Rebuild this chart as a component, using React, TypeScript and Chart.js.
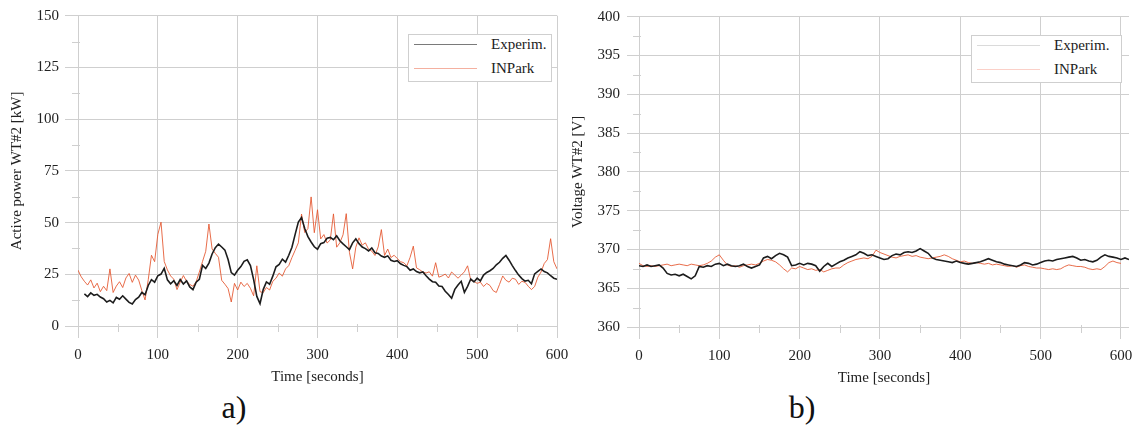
import React, { useEffect, useRef } from "react";
import { Chart, registerables } from "chart.js";

Chart.register(...registerables);

const FONT_FAMILY = "'Liberation Serif', 'Times New Roman', serif";
const TEXT_COLOR = "#222222";
const GRID_COLOR = "#cfcfcf";
const EXP_COLOR = "#1c1c1c";
const SIM_COLOR = "rgba(228, 84, 44, 0.85)";

// ---- a) Active power of WT#2 [kW], sampled every 4 s ----
const POWER_STEP = 4;
const POWER_EXP_START = 8;
const powerExperim = [
  15.5, 14.2, 16.0, 14.8, 15.3, 14.0, 13.2, 11.6, 12.4, 11.2, 13.8, 12.9, 14.6, 13.0, 11.4, 10.6,
  12.8, 13.9, 16.2, 15.1, 19.6, 22.4, 21.2, 24.3, 25.1, 27.9, 22.3, 20.4, 21.9, 19.6, 22.5, 20.3,
  21.8, 18.9, 17.6, 21.2, 22.6, 29.3, 27.8, 30.4, 34.8, 37.9, 39.6, 38.2, 36.7, 32.1, 25.8, 24.6,
  26.9, 28.7, 31.3, 32.0, 29.2, 22.4, 14.3, 10.8, 17.6, 21.3, 20.2, 24.1, 28.6, 29.8, 32.3, 30.9,
  34.2, 38.1, 44.3, 50.2, 52.4, 47.1, 43.2, 40.6, 38.3, 37.1, 39.8, 40.3, 42.4, 42.8, 41.7, 43.6,
  41.2, 39.7, 38.3, 36.9, 40.2, 42.1, 39.8, 38.2, 37.4, 36.3, 37.7, 35.4, 35.1, 33.8, 33.2, 33.9,
  31.8, 31.2, 31.6, 30.1, 29.3, 28.7, 26.9, 27.6, 26.3, 25.7, 26.1, 24.3, 22.7, 21.4, 21.2, 19.3,
  19.1, 16.8, 15.2, 13.4, 17.7, 19.8, 21.6, 16.3, 19.2, 22.7, 21.3, 23.1, 21.8, 24.6, 25.9, 26.7,
  27.8, 29.6, 30.8, 32.7, 34.1, 31.8, 29.2, 26.8, 24.6, 22.9, 21.7, 22.1, 20.4, 25.2, 26.4, 27.6,
  26.3, 25.7, 24.3, 23.1, 22.6,
];
const POWER_SIM_START = 0;
const powerINPark = [
  27.0, 23.8, 21.6, 19.8, 22.3, 18.4, 20.7, 16.6, 19.2, 17.1, 27.6, 16.2, 19.3, 21.4, 18.6, 23.2,
  25.4, 21.1, 24.6, 22.2, 17.1, 12.6, 22.4, 34.2, 31.1, 44.3, 50.2, 31.2, 27.1, 24.2, 22.6, 17.6,
  21.2, 24.4, 21.6, 20.1, 19.2, 21.4, 26.1, 31.2, 36.1, 49.3, 37.2, 35.1, 33.2, 22.1, 20.2, 18.1,
  11.6, 20.6, 17.4, 21.2, 19.1, 20.6, 18.2, 14.6, 29.1, 16.6, 16.1, 18.6, 17.4, 21.6, 23.1, 25.6,
  24.1, 27.6, 29.2, 33.1, 36.6, 40.2, 54.1, 45.2, 47.1, 62.4, 45.1, 56.2, 42.1, 44.2, 40.1, 41.6,
  54.2, 38.1, 40.2, 44.1, 54.3, 35.6, 27.6, 38.1, 42.6, 39.1, 40.2, 37.1, 36.2, 34.1, 38.2, 46.6,
  34.1, 37.2, 33.1, 34.2, 32.6, 31.1, 30.6, 29.1, 33.2, 38.6, 28.1, 27.2, 26.1, 25.6, 26.2, 24.1,
  30.6, 23.6, 24.2, 25.1, 23.2, 26.1, 24.6, 23.1, 24.6, 26.2, 29.1, 22.1, 21.6, 20.6, 21.2, 19.1,
  20.6, 19.6, 17.1, 16.2, 20.1, 24.2, 22.1, 21.2, 23.1, 22.6, 20.1, 21.6, 21.1, 19.2, 17.6, 19.1,
  23.6, 26.1, 30.2, 32.1, 42.2, 31.1, 27.6,
];

// ---- b) Voltage of WT#2 [V], sampled every 5 s ----
const VOLT_STEP = 5;
const voltExperim = [
  367.9, 367.8, 368.0, 367.8, 367.9, 368.0, 367.6, 366.9, 366.7, 366.8, 366.6, 366.8, 366.5, 366.2,
  366.6, 367.8, 367.7, 367.9, 367.8, 368.1, 368.2, 367.9, 368.1, 367.9, 367.8, 367.9, 368.1, 367.8,
  367.6, 367.8, 368.0, 368.9, 369.1, 368.8, 369.2, 369.5, 369.3, 369.0, 367.9, 368.0, 368.2, 368.0,
  368.2, 368.1, 367.9, 367.2, 367.8, 368.2, 367.8, 368.1, 368.4, 368.6, 368.9, 369.1, 369.3, 369.7,
  369.5, 369.2, 369.3, 369.1, 368.9, 368.7, 368.8, 369.2, 369.4, 369.3, 369.6, 369.7, 369.6, 369.8,
  370.1, 369.8, 369.5, 368.9, 368.7, 368.6, 368.5, 368.4, 368.3, 368.5, 368.3, 368.2, 368.1, 368.2,
  368.3, 368.4, 368.6, 368.8, 368.6, 368.4, 368.3, 368.1, 368.0, 367.9, 367.8, 368.0, 368.3, 368.2,
  368.0, 368.1, 368.3, 368.5, 368.6, 368.5, 368.7, 368.8, 368.9, 369.0, 369.1, 368.9, 368.6, 368.7,
  368.5, 368.4, 368.6, 369.0, 369.3, 369.1, 369.0, 368.9, 368.7, 368.9, 368.7,
];
const voltINPark = [
  368.2, 367.9, 367.8, 367.9, 367.8, 367.9, 368.0, 368.1, 367.9, 368.0, 368.1, 368.0, 367.9, 368.1,
  368.0, 367.9, 368.0, 368.2, 368.5, 369.0, 369.3, 368.6, 368.0, 367.8, 367.9, 367.7, 367.9, 368.0,
  368.1, 368.0, 368.2, 368.5, 368.7, 368.6, 368.4, 368.0, 367.5, 367.1, 367.6, 367.5, 367.8, 367.6,
  367.4, 367.5, 367.3, 367.4, 367.1, 367.3, 367.5, 367.6, 367.6, 368.0, 368.3, 368.5, 368.7, 368.8,
  368.9, 368.8, 369.1, 369.9, 369.6, 369.4, 369.2, 369.0, 368.9, 369.1, 369.2, 369.3, 369.1, 369.2,
  369.0, 368.9, 368.8, 368.9, 369.0, 369.1, 369.3, 369.1, 368.8, 368.6, 368.4, 368.5, 368.3, 368.2,
  368.3, 368.2, 368.1, 368.2, 368.0, 368.1, 368.0, 367.9, 367.8, 367.9, 367.7, 367.9, 368.0, 367.8,
  367.7, 367.6, 367.6, 367.5, 367.4, 367.5, 367.4, 367.5, 367.8, 368.0, 367.9, 367.8, 367.8, 367.7,
  367.5, 367.4, 367.5, 367.4, 367.8, 368.3, 368.5, 368.3, 368.2,
];

// Labelled time ticks and the short minor marks between the labelled ticks
const timeTicks = [0, 100, 200, 300, 400, 500, 600];
const timeMinor = [50, 150, 250, 350, 450, 550];
const powerMinor = [12.5, 37.5, 62.5, 87.5, 112.5, 137.5];
const voltMinor = [362.5, 367.5, 372.5, 377.5, 382.5, 387.5, 392.5, 397.5];

const LEGEND_LABELS = ["Experim.", "INPark"];

function toPoints(start: number, step: number, values: number[]) {
  return values.map((v, i) => ({ x: start + i * step, y: v }));
}

const minorTicksPlugin = {
  id: "minorTicks",
  beforeDatasetsDraw(chart: any, _args: any, opts: any) {
    const { ctx, chartArea, scales } = chart;
    ctx.save();
    ctx.strokeStyle = GRID_COLOR;
    ctx.lineWidth = 1;
    for (const v of opts.x || []) {
      const px = Math.round(scales.x.getPixelForValue(v)) + 0.5;
      ctx.beginPath();
      ctx.moveTo(px, chartArea.bottom - 2);
      ctx.lineTo(px, chartArea.bottom + 6);
      ctx.stroke();
    }
    for (const v of opts.y || []) {
      const py = Math.round(scales.y.getPixelForValue(v)) + 0.5;
      ctx.beginPath();
      ctx.moveTo(chartArea.left - 6, py);
      ctx.lineTo(chartArea.left + 2, py);
      ctx.stroke();
    }
    ctx.restore();
  },
};

type PlotProps = {
  width: number;
  height: number;
  expData: { x: number; y: number }[];
  simData: { x: number; y: number }[];
  xMax: number;
  yMin: number;
  yMax: number;
  yStep: number;
  yTitle: string;
  yWidth: number;
  yTickLength: number;
  yTickPadding: number;
  yTitlePad: number;
  padTop: number;
  padRight: number;
  minorY: number[];
};

function Plot(p: PlotProps) {
  const ref = useRef<HTMLCanvasElement | null>(null);
  useEffect(() => {
    if (!ref.current) return;
    const font = { family: FONT_FAMILY, size: 15 };
    const chart = new Chart(ref.current, {
      type: "line",
      data: {
        datasets: [
          {
            label: LEGEND_LABELS[0],
            data: p.expData,
            borderColor: EXP_COLOR,
            borderWidth: 1.6,
            pointRadius: 0,
            tension: 0,
          },
          {
            label: LEGEND_LABELS[1],
            data: p.simData,
            borderColor: SIM_COLOR,
            borderWidth: 1,
            pointRadius: 0,
            tension: 0,
          },
        ],
      },
      options: {
        animation: false,
        responsive: false,
        layout: { padding: { top: p.padTop, right: p.padRight, bottom: 0, left: 0 } },
        plugins: {
          legend: { display: false },
          tooltip: { enabled: false },
          minorTicks: { x: timeMinor, y: p.minorY },
        } as any,
        scales: {
          x: {
            type: "linear",
            min: 0,
            max: p.xMax,
            border: { display: false },
            grid: { color: GRID_COLOR, tickLength: 12, lineWidth: 1 },
            ticks: {
              autoSkip: false,
              maxRotation: 0,
              padding: 8,
              color: TEXT_COLOR,
              font,
            },
            afterBuildTicks: (s: any) => {
              s.ticks = timeTicks.map((value) => ({ value }));
            },
            title: {
              display: true,
              text: "Time [seconds]",
              color: TEXT_COLOR,
              font,
              padding: { top: 0, bottom: 0 },
            },
            afterFit: (s: any) => {
              s.height = 60;
            },
          },
          y: {
            type: "linear",
            min: p.yMin,
            max: p.yMax,
            border: { display: false },
            grid: { color: GRID_COLOR, tickLength: p.yTickLength, lineWidth: 1 },
            ticks: {
              stepSize: p.yStep,
              autoSkip: false,
              padding: p.yTickPadding,
              color: TEXT_COLOR,
              font,
            },
            title: {
              display: true,
              text: p.yTitle,
              color: TEXT_COLOR,
              font,
              padding: { top: p.yTitlePad, bottom: 0 },
            },
            afterFit: (s: any) => {
              s.width = p.yWidth;
            },
          },
        },
      } as any,
      plugins: [minorTicksPlugin],
    });
    return () => chart.destroy();
  }, []);
  return <canvas ref={ref} width={p.width} height={p.height} />;
}

const legendText: React.CSSProperties = {
  position: "absolute",
  fontFamily: FONT_FAMILY,
  fontSize: 15,
  color: TEXT_COLOR,
  lineHeight: "18px",
  whiteSpace: "nowrap",
};

function Legend(props: {
  left: number;
  top: number;
  width: number;
  height: number;
  expColor: string;
  simColor: string;
}) {
  const { left, top, width, height, expColor, simColor } = props;
  const line = (y: number, color: string): React.CSSProperties => ({
    position: "absolute",
    left: 5,
    top: y,
    width: 63,
    height: 0,
    borderTop: `1px solid ${color}`,
  });
  return (
    <div
      style={{
        position: "absolute",
        left,
        top,
        width,
        height,
        background: "#ffffff",
        border: "1px solid #cfcfcf",
        boxSizing: "border-box",
      }}
    >
      <div style={line(9, expColor)} />
      <div style={{ ...legendText, left: 82, top: 0 }}>{LEGEND_LABELS[0]}</div>
      <div style={line(33, simColor)} />
      <div style={{ ...legendText, left: 82, top: 24 }}>{LEGEND_LABELS[1]}</div>
    </div>
  );
}

const panelLabel: React.CSSProperties = {
  position: "absolute",
  fontFamily: FONT_FAMILY,
  fontSize: 32,
  color: "#111",
  lineHeight: "36px",
  transform: "translate(-50%, -50%)",
  whiteSpace: "nowrap",
};

export default function App() {
  return (
    <div
      style={{
        position: "fixed",
        left: 0,
        top: 0,
        width: 1143,
        height: 425,
        background: "#ffffff",
        overflow: "hidden",
      }}
    >
      <div style={{ position: "absolute", left: 0, top: 0 }}>
        <Plot
          width={580}
          height={386}
          expData={toPoints(POWER_EXP_START, POWER_STEP, powerExperim)}
          simData={toPoints(POWER_SIM_START, POWER_STEP, powerINPark)}
          xMax={600}
          yMin={0}
          yMax={150}
          yStep={25}
          yTitle="Active power WT#2 [kW]"
          yWidth={78}
          yTickLength={13}
          yTickPadding={6}
          yTitlePad={8}
          padTop={15.7}
          padRight={23}
          minorY={powerMinor}
        />
      </div>
      <div style={{ position: "absolute", left: 565, top: 0 }}>
        <Plot
          width={588}
          height={387}
          expData={toPoints(0, VOLT_STEP, voltExperim)}
          simData={toPoints(0, VOLT_STEP, voltINPark)}
          xMax={610}
          yMin={360}
          yMax={400}
          yStep={5}
          yTitle="Voltage WT#2 [V]"
          yWidth={74}
          yTickLength={12}
          yTickPadding={7}
          yTitlePad={4}
          padTop={16.6}
          padRight={24}
          minorY={voltMinor}
        />
      </div>
      <Legend left={408} top={34} width={144} height={48} expColor="#7a7a7a" simColor="#f4b0a0" />
      <Legend left={971} top={35} width={151} height={48} expColor="#dadada" simColor="#fbd0c8" />
      <div style={{ ...panelLabel, left: 234, top: 407 }}>a)</div>
      <div style={{ ...panelLabel, left: 802, top: 407 }}>b)</div>
    </div>
  );
}
